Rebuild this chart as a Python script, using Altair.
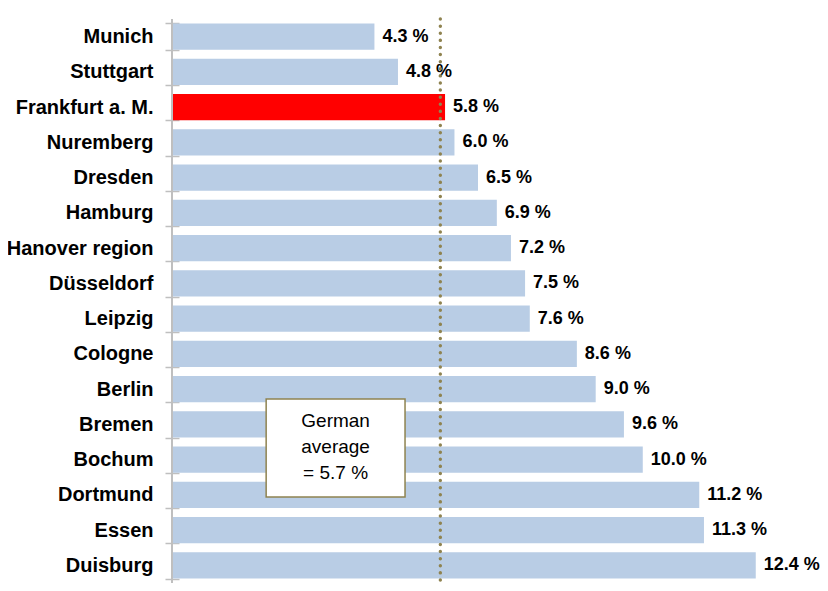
import altair as alt
import pandas as pd

cities = ["Munich", "Stuttgart", "Frankfurt a. M.", "Nuremberg", "Dresden", "Hamburg",
          "Hanover region", "Düsseldorf", "Leipzig", "Cologne", "Berlin", "Bremen",
          "Bochum", "Dortmund", "Essen", "Duisburg"]
values = [4.3, 4.8, 5.8, 6.0, 6.5, 6.9, 7.2, 7.5, 7.6, 8.6, 9.0, 9.6, 10.0, 11.2, 11.3, 12.4]
highlight = "Frankfurt a. M."
german_avg = 5.7
note_lines = ["German", "average", "= 5.7 %"]
note_x = [2.0, 4.95]

FONT = "Liberation Sans, Arial, sans-serif"
XS = alt.Scale(domain=[0, 13], nice=False)

df = pd.DataFrame({
    "city": cities,
    "value": values,
    "label": [f"{v:.1f} %" for v in values],
    "hl": [c == highlight for c in cities],
})

y = alt.Y("city:N", sort=cities, title=None,
          scale=alt.Scale(paddingInner=0.25, paddingOuter=0.125),
          axis=alt.Axis(domain=False, ticks=True, tickBand="extent", tickSize=14,
                        tickColor="#BFBFBF", tickWidth=1.5, offset=-7, labelPadding=12,
                        labelFont=FONT, labelFontSize=20, labelFontWeight="bold",
                        labelColor="#000000", grid=False))
x = alt.X("value:Q", title=None, axis=None, scale=XS)

base = alt.Chart(df)

bars = base.mark_bar().encode(
    x=x, y=y,
    color=alt.condition(alt.datum.hl, alt.value("#FF0000"), alt.value("#B9CDE5")),
)

labels = base.mark_text(align="left", baseline="middle", dx=8, font=FONT,
                        fontSize=18, fontWeight="bold", color="#000000").encode(
    x=x, y=y, text="label:N")

domain_line = alt.Chart(pd.DataFrame({"v": [0]})).mark_rule(
    color="#BFBFBF", strokeWidth=2).encode(x=alt.X("v:Q", scale=XS, axis=None))

avg_line = alt.Chart(pd.DataFrame({"v": [german_avg]})).mark_rule(
    color="#8F8350", strokeWidth=3.4, strokeDash=[0.1, 7], strokeCap="round").encode(
    x=alt.X("v:Q", scale=XS, axis=None))

note_df = pd.DataFrame({"x0": [note_x[0]], "x1": [note_x[1]]})
note_box = alt.Chart(note_df).mark_rect(fill="white", stroke="#8F8350", strokeWidth=1.5).encode(
    x=alt.X("x0:Q", scale=XS, axis=None),
    x2="x1:Q",
    y=alt.value(380), y2=alt.value(478))

note_text = alt.Chart(pd.DataFrame({"xm": [(note_x[0] + note_x[1]) / 2]})).mark_text(
    text=note_lines, font=FONT, fontSize=19, lineHeight=26, align="center",
    baseline="middle", color="#000000").encode(
    x=alt.X("xm:Q", scale=XS, axis=None),
    y=alt.value(402))

chart = alt.layer(bars, labels, domain_line, avg_line, note_box, note_text).properties(
    width=612, height=564,
    autosize=alt.AutoSizeParams(type="none"),
    padding={"left": 164, "top": 11, "right": 36, "bottom": 0},
    background="white",
).configure_view(strokeWidth=0, stroke="transparent")

chart.save("out.html", embed_options={"renderer": "svg", "actions": False})
